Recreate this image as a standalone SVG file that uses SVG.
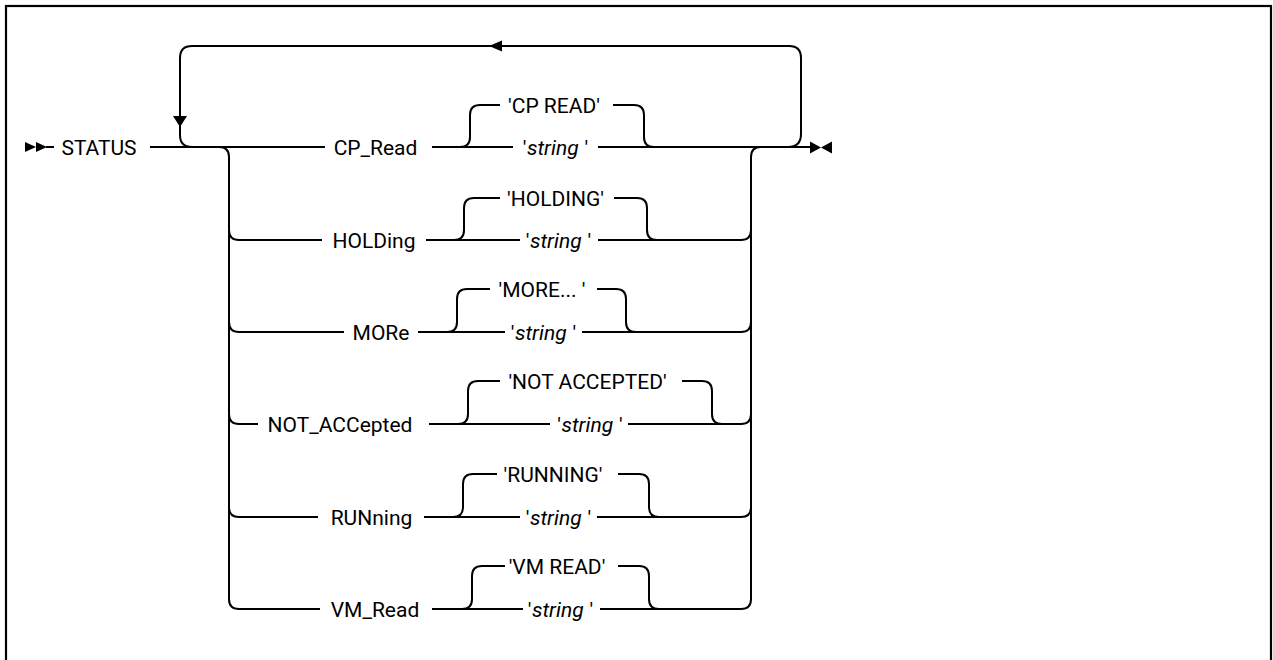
<svg xmlns="http://www.w3.org/2000/svg" width="1273" height="660" viewBox="0 0 1273 660">
<style>
.ln{fill:none;stroke:#000;stroke-width:2;stroke-linejoin:round}
.ah{fill:#000;stroke:none}
text{font-family:Roboto,"Liberation Sans",Arial,sans-serif;font-size:21px;fill:#000;text-anchor:middle}
.it{font-style:italic}
</style>
<rect x="0" y="0" width="1273" height="660" fill="#fff"/>
<rect x="6" y="6" width="1265" height="720" fill="none" stroke="#000" stroke-width="2.2"/>
<g id="connectors">
<polygon class="ah" points="25,142 36,147 25,152"/>
<polygon class="ah" points="36,142 47,147 36,152"/>
<path class="ln" d="M46,147 H54"/>
<path class="ln" d="M150,147 H325"/>
<path class="ln" d="M432,147 H513 M598,147 H810"/>
<polygon class="ah" points="810,141.5 821,147.5 810,153.5"/>
<polygon class="ah" points="832,141.5 821,147.5 832,153.5"/>
<path class="ln" d="M788,147 Q801,147 801,134 V58 Q801,46 789,46 H192 Q180,46 180,58 V135 Q180,147 192,147"/>
<polygon class="ah" points="489,46 502,40.5 502,51.5"/>
<polygon class="ah" points="173,116 187,116 180,127"/>
<path class="ln" d="M219,147 Q229,147 229,157 V599 Q229,609 239,609"/>
<path class="ln" d="M229,230 Q229,240 239,240 M229,322 Q229,332 239,332 M229,414 Q229,424 239,424 M229,507 Q229,517 239,517"/>
<path class="ln" d="M761,147 Q751,147 751,157 V599 Q751,609 741,609"/>
<path class="ln" d="M741,240 Q751,240 751,230 M741,332 Q751,332 751,322 M741,424 Q751,424 751,414 M741,517 Q751,517 751,507"/>
<path class="ln" d="M460,147 Q470,147 470,137 V115 Q470,105 480,105 H500 M613,105 H634 Q644,105 644,115 V137 Q644,147 654,147"/>
<path class="ln" d="M239,240 H322 M426,240 H520 M598,240 H741"/>
<path class="ln" d="M454,240 Q464,240 464,230 V208 Q464,198 474,198 H500 M614,198 H637 Q647,198 647,208 V230 Q647,240 657,240"/>
<path class="ln" d="M239,332 H344 M418,332 H505 M582,332 H741"/>
<path class="ln" d="M447,332 Q457,332 457,322 V299 Q457,289 467,289 H490 M597,289 H616 Q626,289 626,299 V322 Q626,332 636,332"/>
<path class="ln" d="M239,424 H258 M429,424 H550 M628,424 H741"/>
<path class="ln" d="M458,424 Q468,424 468,414 V391 Q468,381 478,381 H500 M682,381 H702 Q712,381 712,391 V414 Q712,424 722,424"/>
<path class="ln" d="M239,517 H318 M424,517 H520 M597,517 H741"/>
<path class="ln" d="M453,517 Q463,517 463,507 V484 Q463,474 473,474 H497 M618,474 H639 Q649,474 649,484 V507 Q649,517 659,517"/>
<path class="ln" d="M239,609 H320 M432,609 H523 M600,609 H741"/>
<path class="ln" d="M462,609 Q472,609 472,599 V576 Q472,566 482,566 H505 M618,566 H639 Q649,566 649,576 V599 Q649,609 659,609"/>
</g>
<g id="n-status"><text x="99" y="154.5">STATUS</text></g>
<g id="n-cpread"><text x="375.5" y="154.5">CP_Read</text><text x="554" y="112.5">'CP READ'</text><text x="555.5" y="154.5">'<tspan class="it" dx="0.5">string</tspan><tspan dx="6">'</tspan></text></g>
<g id="n-holding"><text x="374" y="247.5">HOLDing</text><text x="555.5" y="205.5">'HOLDING'</text><text x="558.5" y="247.5">'<tspan class="it" dx="0.5">string</tspan><tspan dx="6">'</tspan></text></g>
<g id="n-more"><text x="381" y="339.5">MORe</text><text x="542" y="296.5">'MORE... '</text><text x="543.5" y="339.5">'<tspan class="it" dx="0.5">string</tspan><tspan dx="6">'</tspan></text></g>
<g id="n-notacc"><text x="340" y="431.5">NOT_ACCepted</text><text x="587.5" y="388.5">'NOT ACCEPTED'</text><text x="590" y="431.5">'<tspan class="it" dx="0.5">string</tspan><tspan dx="6">'</tspan></text></g>
<g id="n-running"><text x="371.5" y="524.5">RUNning</text><text x="553" y="481.5">'RUNNING'</text><text x="558.5" y="524.5">'<tspan class="it" dx="0.5">string</tspan><tspan dx="6">'</tspan></text></g>
<g id="n-vmread"><text x="375" y="616.5">VM_Read</text><text x="557" y="573.5">'VM READ'</text><text x="560.5" y="616.5">'<tspan class="it" dx="0.5">string</tspan><tspan dx="6">'</tspan></text></g>
</svg>
